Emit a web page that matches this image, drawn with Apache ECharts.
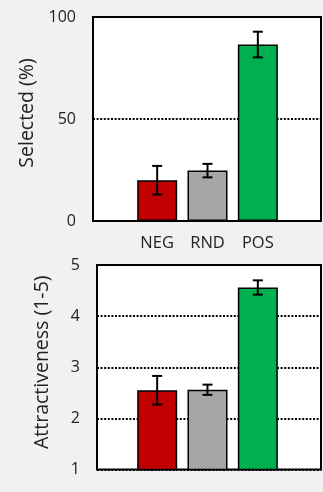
<!DOCTYPE html>
<html>
<head>
<meta charset="utf-8">
<script src="https://cdn.jsdelivr.net/npm/echarts@6/dist/echarts.min.js"></script>
<style>
html,body{margin:0;padding:0;background:#f1f1f1;}
#c{width:323px;height:492px;}
</style>
</head>
<body>
<div id="c"></div>
<script>
var categories = ['NEG', 'RND', 'POS'];
var barColors = ['#c00000', '#a6a6a6', '#00b050'];
var selectedMean = [20, 24.7, 86.5];
var selectedErr = [7, 3.3, 6.3];
var attractMean = [2.55, 2.56, 4.56];
var attractErr = [0.28, 0.1, 0.14];
var selectedTicks = { min: 0, max: 100, interval: 50 };
var attractTicks = { min: 1, max: 5, interval: 1 };

var FONT = '"Open Sans"';
var chart = echarts.init(document.getElementById('c'), null, { renderer: 'canvas' });

function barData(means) {
  return means.map(function (v, i) {
    return { value: v, itemStyle: { color: barColors[i] } };
  });
}
function errData(means, errs) {
  return means.map(function (v, i) { return [i, v - errs[i], v + errs[i]]; });
}
function renderErr(params, api) {
  var x = api.value(0);
  var lo = api.coord([x, api.value(1)]);
  var hi = api.coord([x, api.value(2)]);
  var hw = 5;
  var st = { stroke: '#000', lineWidth: 2 };
  return {
    type: 'group',
    children: [
      { type: 'line', shape: { x1: lo[0], y1: lo[1], x2: hi[0], y2: hi[1] }, style: st },
      { type: 'line', shape: { x1: lo[0] - hw, y1: lo[1], x2: lo[0] + hw, y2: lo[1] }, style: st },
      { type: 'line', shape: { x1: hi[0] - hw, y1: hi[1], x2: hi[0] + hw, y2: hi[1] }, style: st }
    ]
  };
}

var dotted = { color: '#000', width: 2, type: [2, 1.6] };

var option = {
  backgroundColor: '#f1f1f1',
  animation: false,
  grid: [
    { left: 93, right: 2, top: 17, height: 204, show: true, backgroundColor: '#fff', borderColor: '#000', borderWidth: 2, z: 0 },
    { left: 132, width: 151, top: 17, height: 204 },
    { left: 97, right: 2, top: 265, height: 204.5, show: true, backgroundColor: '#fff', borderColor: '#000', borderWidth: 2, z: 0 },
    { left: 132, width: 151, top: 265, height: 204.5 }
  ],
  xAxis: [
    { gridIndex: 0, type: 'value', show: false, min: 0, max: 1 },
    { gridIndex: 1, type: 'category', data: categories, axisLine: { show: false }, axisTick: { show: false },
      axisLabel: { color: '#222', fontSize: 16.5, fontFamily: FONT, margin: 14 } },
    { gridIndex: 2, type: 'value', show: false, min: 0, max: 1 },
    { gridIndex: 3, type: 'category', data: categories, axisLine: { show: false }, axisTick: { show: false }, axisLabel: { show: false } }
  ],
  yAxis: [
    { gridIndex: 0, type: 'value', min: selectedTicks.min, max: selectedTicks.max, interval: selectedTicks.interval,
      axisLine: { show: false }, axisTick: { show: false },
      axisLabel: { color: '#222', fontSize: 16, fontFamily: FONT, margin: 17 },
      splitLine: { show: true, lineStyle: dotted },
      name: 'Selected (%)', nameLocation: 'middle', nameGap: 42, nameRotate: 90,
      nameTextStyle: { color: '#222', fontSize: 19.5, fontFamily: FONT, padding: [0, 0, 0, 12] } },
    { gridIndex: 1, type: 'value', min: selectedTicks.min, max: selectedTicks.max, show: false, splitLine: { show: false } },
    { gridIndex: 2, type: 'value', min: attractTicks.min, max: attractTicks.max, interval: attractTicks.interval,
      axisLine: { show: false }, axisTick: { show: false },
      axisLabel: { color: '#222', fontSize: 16, fontFamily: FONT, margin: 17 },
      splitLine: { show: true, lineStyle: dotted },
      name: 'Attractiveness (1-5)', nameLocation: 'middle', nameGap: 45, nameRotate: 90,
      nameTextStyle: { color: '#222', fontSize: 19.5, fontFamily: FONT, padding: [0, 0, 0, 10] } },
    { gridIndex: 3, type: 'value', min: attractTicks.min, max: attractTicks.max, show: false, splitLine: { show: false } }
  ],
  series: [
    { type: 'bar', xAxisIndex: 1, yAxisIndex: 1, data: barData(selectedMean), barWidth: 40,
      itemStyle: { borderColor: '#000', borderWidth: 1.5 }, z: 3 },
    { type: 'custom', xAxisIndex: 1, yAxisIndex: 1, data: errData(selectedMean, selectedErr), renderItem: renderErr, z: 5 },
    { type: 'bar', xAxisIndex: 3, yAxisIndex: 3, data: barData(attractMean), barWidth: 40,
      itemStyle: { borderColor: '#000', borderWidth: 1.5 }, z: 3 },
    { type: 'custom', xAxisIndex: 3, yAxisIndex: 3, data: errData(attractMean, attractErr), renderItem: renderErr, z: 5 }
  ]
};
chart.setOption(option);
</script>
</body>
</html>
